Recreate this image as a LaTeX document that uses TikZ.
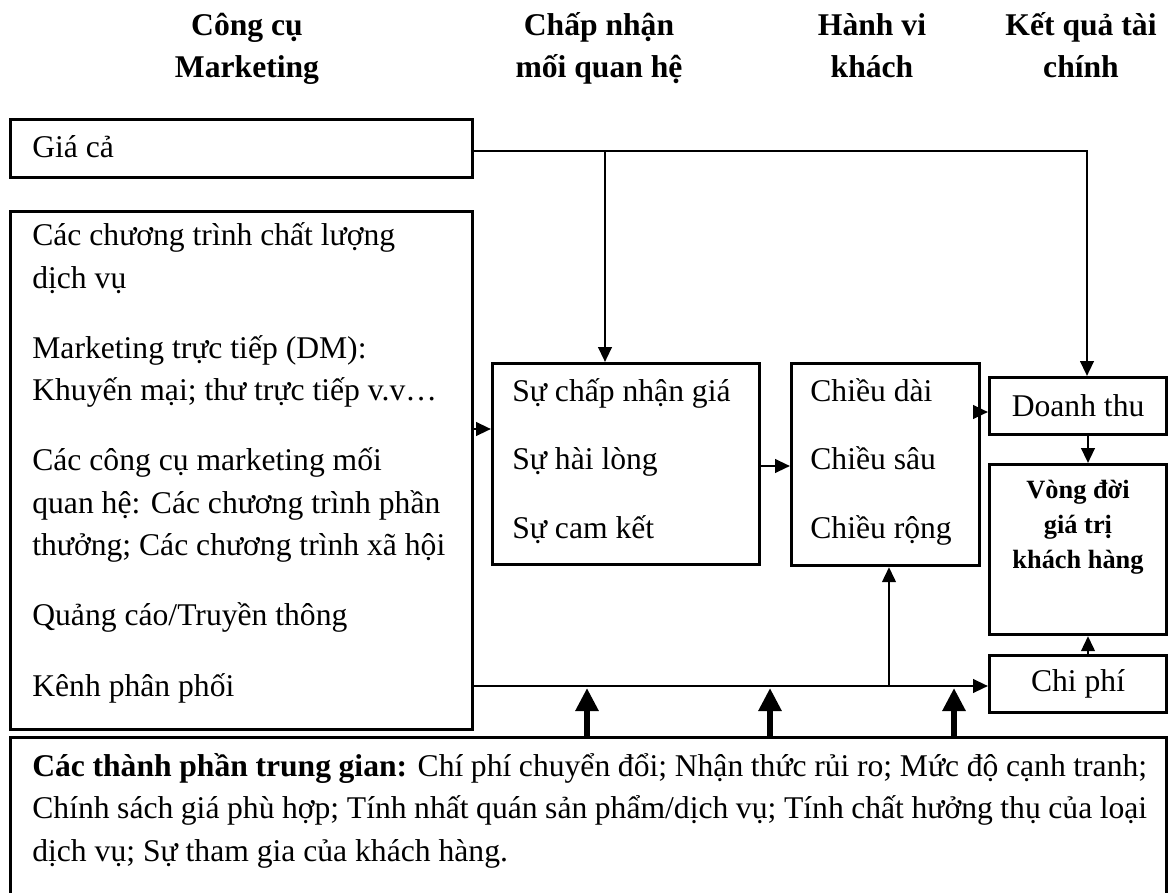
\documentclass[tikz,border=0pt]{standalone}
\usepackage{fontspec}
\setmainfont{Liberation Serif}
\usetikzlibrary{arrows.meta}

\begin{document}
\begin{tikzpicture}[
        x=0.02cm, y=-0.02cm,
        font=\fontsize{18}{24.2}\selectfont,
        box/.style={draw, line width=1.8pt, anchor=north west, inner sep=0pt},
        txt/.style={anchor=base west, inner sep=0pt, align=left},
        colhead/.style={anchor=base, inner sep=0pt, align=center, font=\fontsize{18}{24.2}\selectfont\bfseries},
        arrow/.style={-{Triangle[length=0.3cm,width=0.27cm]}, line width=1.5pt},
        bigarrow/.style={-{Triangle[length=0.46cm,width=0.44cm]}, line width=3.4pt}
    ]
        \useasboundingbox (0,0) rectangle (1169,892);
        \clip (0,0) rectangle (1169,892);

        % column headings (anchored on the last line)
        \node[colhead] (htools) at (247,78) {Công cụ\\Marketing};
        \node[colhead] (haccept) at (599,78) {Chấp nhận\\mối quan hệ};
        \node[colhead] (hbehav) at (872,78) {Hành vi\\khách};
        \node[colhead] (hresult) at (1081,78) {Kết quả tài\\chính};

        % boxes
        \node[box, minimum width=9.24cm, minimum height=1.16cm] (price) at (9,118) {};
        \node[box, minimum width=9.24cm, minimum height=10.36cm] (tools) at (9,210) {};
        \node[box, minimum width=5.34cm, minimum height=4.02cm] (accept) at (491,362) {};
        \node[box, minimum width=3.76cm, minimum height=4.04cm] (behav) at (790,362) {};
        \node[box, minimum width=3.54cm, minimum height=1.14cm] (revenue) at (988,376) {Doanh thu};
        \node[box, minimum width=3.54cm, minimum height=3.4cm] (clv) at (988,463) {};
        \node[box, minimum width=3.54cm, minimum height=1.14cm] (cost) at (988,654) {Chi phí};
        \node[box, minimum width=23.12cm, minimum height=3.2cm] (mediator) at (9,736) {};

        % texts in the boxes
        \node[txt] (pricetext) at (32,157) {Giá cả};
        \node[txt] (toolstext) at (32,696) {Các chương trình chất lượng\\dịch vụ\\[0.55cm]
            Marketing trực tiếp (DM):\\Khuyến mại; thư trực tiếp v.v…\\[0.55cm]
            Các công cụ marketing mối\\quan hệ: Các chương trình phần\\thưởng; Các chương trình xã hội\\[0.55cm]
            Quảng cáo/Truyền thông\\[0.55cm]
            Kênh phân phối};
        \node[txt] (accepttext) at (512,538) {Sự chấp nhận giá\\[0.51cm]Sự hài lòng\\[0.51cm]Sự cam kết};
        \node[txt] (behavtext) at (810,538) {Chiều dài\\[0.51cm]Chiều sâu\\[0.51cm]Chiều rộng};
        \node[anchor=base, inner sep=0pt, align=center, font=\fontsize{15}{19.9}\selectfont\bfseries] (clvtext) at (1078,568) {Vòng đời\\giá trị\\khách hàng};
        \node[txt, text width=22.3cm, align=justify] (mediatortext) at (32,776) {\textbf{Các thành phần trung gian:} Chí phí chuyển đổi; Nhận thức rủi ro; Mức độ cạnh tranh;\linebreak
            Chính sách giá phù hợp; Tính nhất quán sản phẩm/dịch vụ; Tính chất hưởng thụ của loại\linebreak
            dịch vụ; Sự tham gia của khách hàng.};

        % connectors
        \coordinate (pricejoin) at (605,151);
        \coordinate (revtop) at (1087,376);
        \coordinate (toolsout) at (0,429);
        \coordinate (acceptout) at (0,466);
        \coordinate (behavout) at (0,412);
        \coordinate (channel) at (0,686);
        \coordinate (channeljoin) at (889,686);
        \coordinate (resultx) at (1088,0);
        \coordinate (m1) at (587,688);
        \coordinate (m2) at (770,688);
        \coordinate (m3) at (954,688);

        \draw[arrow] (price.east |- pricejoin) -| (revtop);
        \draw[arrow] (pricejoin) -- (pricejoin |- accept.north);
        \draw[arrow] (tools.east |- toolsout) -- (accept.west |- toolsout);
        \draw[arrow] (accept.east |- acceptout) -- (behav.west |- acceptout);
        \draw[arrow] (behav.east |- behavout) -- (revenue.west |- behavout);
        \draw[arrow] (revenue.south -| resultx) -- (clv.north -| resultx);
        \draw[arrow] (cost.north -| resultx) -- (clv.south -| resultx);
        \draw[arrow] (tools.east |- channel) -- (cost.west |- channel);
        \draw[arrow] (channeljoin) -- (channeljoin |- behav.south);
        \draw[bigarrow] (mediator.north -| m1) -- (m1);
        \draw[bigarrow] (mediator.north -| m2) -- (m2);
        \draw[bigarrow] (mediator.north -| m3) -- (m3);
    \end{tikzpicture}
\end{document}
